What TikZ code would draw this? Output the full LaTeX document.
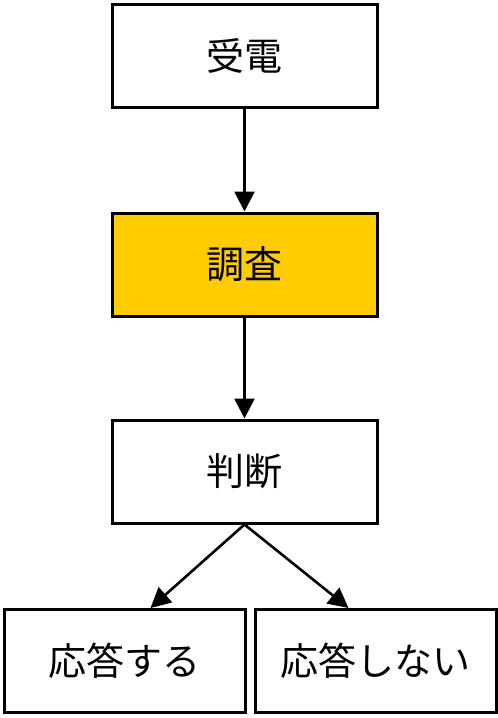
\documentclass[tikz,border=0pt]{standalone}
\usepackage{fontspec}
\newfontfamily\cjk{Noto Sans CJK JP}
\usetikzlibrary{arrows.meta}
\definecolor{gold}{HTML}{FFCC00}
\tikzset{
  box/.style={draw=black, line width=3pt, fill=white, minimum width=265pt, minimum height=103pt, inner sep=0pt, font=\cjk\fontsize{38}{40}\selectfont},
  smallbox/.style={box, minimum width=241pt},
  conn/.style={line width=2.6pt, -{Triangle[width=20pt,length=20pt]}}
}
\begin{document}
\begin{tikzpicture}[x=1pt,y=-1pt]
\useasboundingbox (0,0) rectangle (498,718);
\node[box] (a) at (244.5,55.5) {受電};
\node[box, fill=gold] (b) at (244.5,264.5) {調査};
\node[box] (c) at (244.5,471.5) {判断};
\node[smallbox] (d) at (124.5,661) {応答する};
\node[smallbox] (e) at (375.5,661) {応答しない};
\coordinate (dt) at ([xshift=26pt]d.north);
\coordinate (et) at ([xshift=-27pt]e.north);
\draw[conn] (a) -- (b);
\draw[conn] (b) -- (c);
\draw[conn] (c.south) -- (dt);
\draw[conn] (c.south) -- (et);
\end{tikzpicture}
\end{document}
